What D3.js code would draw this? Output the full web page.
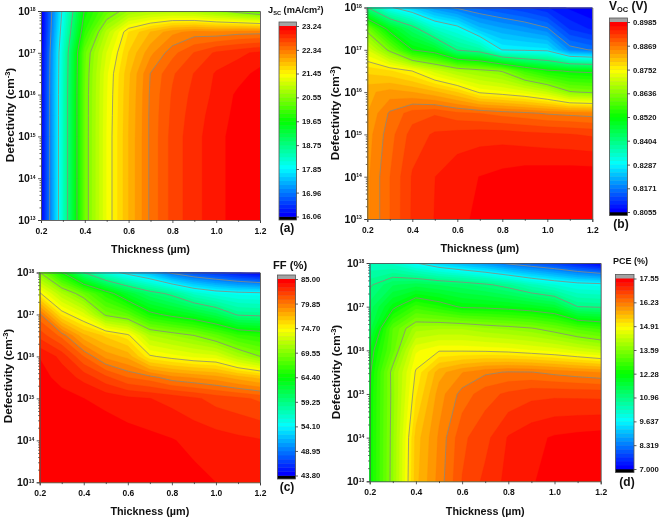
<!DOCTYPE html>
<html><head><meta charset="utf-8">
<style>html,body{margin:0;padding:0;background:#fff}svg{display:block;filter:blur(.35px)}text{font-family:"Liberation Sans",Arial,sans-serif;font-weight:bold;fill:#111}</style>
<script src="https://cdn.jsdelivr.net/npm/d3@7"></script></head><body>
<svg id="c" width="661" height="519"></svg>
<script>
const thicknessGrid=[0.2,0.3,0.4,0.5,0.6,0.7,0.8,0.9,1.0,1.1,1.2];
const logDefectGrid=[13,14,15,15.5,16,16.5,17,17.5,18];
const xTicks=[0.2,0.4,0.6,0.8,1.0,1.2];
const xMinorTicks=[0.3,0.5,0.7,0.9,1.1];
const yTicks=[13,14,15,16,17,18];
const yMinorFactors=[2,3,4,5,6,7,8,9];

const jscTicks=["16.06","16.96","17.85","18.75","19.65","20.55","21.45","22.34","23.24"];
const vocTicks=["0.8055","0.8171","0.8287","0.8404","0.8520","0.8636","0.8752","0.8869","0.8985"];
const ffTicks=["43.80","48.95","54.10","59.25","64.40","69.55","74.70","79.85","85.00"];
const pceTicks=["7.000","8.319","9.637","10.96","12.28","13.59","14.91","16.23","17.55"];

const jscGrid=[
[16.07,18.3,20.4,21.3,21.9,22.38,22.7,22.89,23.03,23.17,23.23],
[16.07,18.3,20.4,21.3,21.9,22.38,22.7,22.89,23.03,23.17,23.23],
[16.07,18.3,20.4,21.3,21.9,22.38,22.7,22.89,23.03,23.17,23.23],
[16.07,18.3,20.4,21.29,21.89,22.38,22.68,22.87,23.01,23.14,23.21],
[16.07,18.3,20.4,21.28,21.88,22.37,22.66,22.84,22.98,23.12,23.2],
[16.07,18.28,20.38,21.26,21.86,22.35,22.62,22.8,22.96,23.03,23.14],
[16.05,18.25,20.35,21.15,21.75,22.15,22.44,22.65,22.82,22.9,22.98],
[16.0,18.1,19.95,20.9,21.6,21.9,22.15,22.25,22.22,22.27,22.28],
[16.0,17.95,19.7,20.3,20.7,20.82,20.85,20.78,20.6,20.4,20.2]];

const vocGrid=[
[.8845,.8888,.893,.8947,.8959,.8971,.8978,.8982,.8984,.8985,.8985],
[.8845,.8888,.8929,.8946,.8959,.8966,.8972,.8977,.8978,.8979,.8979],
[.884,.888,.8916,.893,.8935,.8938,.8938,.8934,.8931,.8928,.8924],
[.883,.8872,.8898,.8905,.8893,.8888,.888,.8874,.8866,.8862,.8858],
[.8825,.8838,.883,.8815,.879,.8748,.8737,.8722,.8694,.864,.863],
[.8785,.8775,.8752,.8705,.867,.8652,.8633,.857,.853,.8515,.851],
[.8713,.8625,.852,.849,.84,.8376,.8285,.828,.8275,.8185,.8168],
[.862,.85,.8426,.8339,.8305,.8235,.8213,.8197,.8175,.811,.809],
[.8404,.8295,.8245,.8195,.8165,.8145,.813,.8115,.8095,.807,.8055]];

const ffGrid=[
[85,85,85,85,85,85,84.9,84.4,84.14,83.95,83.8],
[85,85,85,84.8,84.6,84.4,84.2,83.9,83.7,83.5,83.35],
[84.9,84.5,84.15,83.85,83.5,83.3,83,82.6,82.1,81.8,81.4],
[84.5,83.8,83,81.8,80.7,80.2,79.3,78.9,78.5,77.7,77],
[84.1,83,80.7,78.7,77.85,74.9,74.2,73.6,73.3,71.2,69.55],
[82.1,80.4,77.5,76.2,75,71.3,70.45,69.55,68.1,66.4,65.8],
[80.1,75.4,73.3,69.2,68,65,63.8,62.8,61.3,59,58.8],
[74.9,71.3,68.5,65.5,62.5,60.2,58.75,56.4,55.2,54.7,54.5],
[69.55,64.6,59.25,55.5,53.3,51.5,48.5,47,46,44.8,43.8]];

const pceGrid=[
[12.3,13.77,15.5,16.1,16.68,16.95,17.18,17.31,17.42,17.48,17.52],
[12.3,13.75,15.45,16.05,16.62,16.82,17.13,17.26,17.36,17.4,17.43],
[12.28,13.72,15.1,15.9,16.32,16.58,16.72,16.82,16.84,16.83,16.82],
[12.2,13.75,14.95,15.7,16,16.18,16.25,16.24,16.15,16.07,16],
[12.05,13.25,14.65,14.88,14.87,14.85,14.8,14.7,14.6,14.43,14.25],
[11.5,13.15,13.93,14,14,13.85,13.75,13.63,13.39,13.08,12.87],
[11.26,12.15,12.81,12.54,12.2,12.17,12.08,11.95,11.75,10.96,10.9],
[10.9,11.36,11.5,11.37,11.24,11.05,10.78,10.37,10.08,9.86,9.79],
[10.3,10.2,9.64,9.2,8.9,8.6,8.2,7.95,7.7,7.35,7]];

const LEVELS_PER_TICK=6;
const stops=["#0000ff","#00ffff","#00ff00","#ffff00","#ff0000"];
const ramp=d3.scaleLinear().domain([0,.25,.5,.75,1]).range(stops);
const gx=d3.scaleLinear().domain(d3.range(thicknessGrid.length)).range(thicknessGrid);
const gy=d3.scaleLinear().domain(d3.range(logDefectGrid.length)).range(logDefectGrid);
const svg=d3.select("#c");

function panel(o,i){
  const x=d3.scaleLinear().domain([.2,1.2]).range([o.x0,o.x1]);
  const y=d3.scaleLog().domain([1e13,1e18]).range([o.y1,o.y0]);
  const vals=o.grid.flat();
  const tickNums=o.ticks.map(Number);
  const lo=tickNums[0],hi=tickNums[tickNums.length-1];
  const nBands=(tickNums.length-1)*LEVELS_PER_TICK;
  const levels=d3.range(nBands).map(k=>lo+(hi-lo)*k/nBands);
  const bandColor=k=>ramp(k/(nBands-1));
  const contours=d3.contours().size([thicknessGrid.length,logDefectGrid.length]).thresholds(levels).smooth(true)(vals);
  const proj=d3.geoTransform({point(a,b){this.stream.point(x(gx(a-.5)),y(Math.pow(10,gy(b-.5))));}});
  const path=d3.geoPath(proj);
  const cid="clip"+i;
  svg.append("clipPath").attr("id",cid).append("rect").attr("x",o.x0).attr("y",o.y0).attr("width",o.x1-o.x0).attr("height",o.y1-o.y0);
  const g=svg.append("g").attr("clip-path",`url(#${cid})`);
  g.append("rect").attr("x",o.x0).attr("y",o.y0).attr("width",o.x1-o.x0).attr("height",o.y1-o.y0).attr("fill",bandColor(0));
  g.selectAll("path.b").data(contours).join("path").attr("class","b").attr("d",path)
    .attr("fill",(d,k)=>bandColor(k)).attr("stroke",(d,k)=>bandColor(k)).attr("stroke-width",.3);
  g.selectAll("path.l").data(contours.filter((d,k)=>k>0&&k%LEVELS_PER_TICK===0)).join("path").attr("class","l").attr("d",path)
    .attr("fill","none").attr("stroke","#8c8c78").attr("stroke-width",.8);
  // axes
  const root=svg.append("g");
  const ax=root.append("g").attr("transform",`translate(0,${o.y1})`)
    .call(d3.axisBottom(x).tickValues(xTicks).tickFormat(d3.format(".1f")).tickSize(3).tickPadding(4.5));
  ax.selectAll("text").attr("font-size",8.5);
  root.append("g").attr("transform",`translate(0,${o.y1})`).call(d3.axisBottom(x).tickValues(xMinorTicks).tickFormat("").tickSize(1.8)).select(".domain").remove();
  const minorY=[];
  yTicks.slice(0,-1).forEach(e=>yMinorFactors.forEach(f=>minorY.push(f*Math.pow(10,e))));
  root.append("g").attr("transform",`translate(${o.x0},0)`).call(d3.axisLeft(y).tickValues(minorY).tickFormat("").tickSize(1.5)).select(".domain").remove();
  const ay=root.append("g").attr("transform",`translate(${o.x0},0)`)
    .call(d3.axisLeft(y).tickValues(yTicks.map(e=>Math.pow(10,e))).tickSize(3).tickPadding(2.5).tickFormat(""));
  ay.selectAll(".tick text").each(function(d){const t=d3.select(this);t.text(null);t.attr("font-size",10.5);
    t.append("tspan").text("10");
    t.append("tspan").attr("dy",-3.5).attr("font-size",5).text(String(Math.round(Math.log10(d))));});
  root.append("g").attr("transform",`translate(0,${o.y0})`).call(d3.axisTop(x).tickValues([]).tickSize(0));
  root.append("g").attr("transform",`translate(${o.x1},0)`).call(d3.axisRight(y).tickValues([]).tickSize(0));
  root.selectAll(".domain").attr("stroke","#555").attr("stroke-width",.9);
  root.selectAll(".tick line").attr("stroke","#333").attr("stroke-width",.8);
  // titles
  svg.append("text").attr("x",(o.x0+o.x1)/2+o.xtDx).attr("y",o.xtY).attr("text-anchor","middle").attr("font-size",10.8).text("Thickness (µm)");
  const yt=svg.append("text").attr("transform",`translate(${o.ytX},${o.ytY}) rotate(-90)`).attr("text-anchor","middle").attr("font-size",11.8);
  yt.append("tspan").text("Defectivity (cm");
  yt.append("tspan").attr("dy",-4).attr("font-size",7.5).text("-3");
  yt.append("tspan").attr("dy",4).text(")");
  // colour bar
  const bh=o.by1-o.by0;
  const by=d3.scaleLinear().domain([lo,hi]).range([o.by1-3.5,o.by0+4]);
  svg.append("rect").attr("x",o.bx0).attr("y",o.by0).attr("width",o.bx1-o.bx0).attr("height",bh).attr("fill","#a3a3a3");
  svg.append("rect").attr("x",o.bx0).attr("y",o.by1-3.5).attr("width",o.bx1-o.bx0).attr("height",3.5).attr("fill","#000");
  svg.selectAll(null).data(levels).join("rect").attr("x",o.bx0).attr("width",o.bx1-o.bx0)
    .attr("y",(d,k)=>by(k+1<nBands?levels[k+1]:hi)).attr("height",(d,k)=>by(d)-by(k+1<nBands?levels[k+1]:hi)+.3)
    .attr("fill",(d,k)=>bandColor(k));
  svg.append("rect").attr("x",o.bx0).attr("y",o.by0).attr("width",o.bx1-o.bx0).attr("height",bh).attr("fill","none").attr("stroke","#555").attr("stroke-width",.8);
  const ab=svg.append("g").attr("transform",`translate(${o.bx1},0)`)
    .call(d3.axisRight(by).tickValues(tickNums).tickFormat((d,k)=>o.ticks[k]).tickSize(2.5).tickPadding(3));
  ab.select(".domain").remove();
  ab.selectAll("text").attr("font-size",7.7);
  ab.selectAll("line").attr("stroke","#333").attr("stroke-width",.8);
  // legend title
  const lt=svg.append("text").attr("x",o.ltX).attr("y",o.ltY).attr("font-size",o.ltSize);
  o.title.forEach(s=>{const t=lt.append("tspan").text(s[0]);
    if(s[1]==="sub")t.attr("dy",2).attr("font-size",o.ltSize*.62);
    else if(s[1]==="sup")t.attr("dy",-3.5).attr("font-size",o.ltSize*.62);
    else if(s[1]==="base")t.attr("dy",s[2]);});
  svg.append("text").attr("x",o.pX).attr("y",o.pY).attr("text-anchor","middle").attr("font-size",12).text(o.panel);
}
const panels=[
{grid:jscGrid,ticks:jscTicks,panel:"(a)",x0:41,x1:260,y0:11,y1:220,bx0:279,bx1:296.5,by0:22,by1:220,xtY:253,xtDx:0,ytX:14,ytY:115,ltX:268,ltY:13,ltSize:9.2,pX:287,pY:232,
 title:[["J"],["SC","sub"],[" (mA/cm",'base',-2],["2","sup"],[")","base",3.5]]},
{grid:vocGrid,ticks:vocTicks,panel:"(b)",x0:367.3,x1:592.3,y0:7.5,y1:219,bx0:609.5,bx1:627.5,by0:18,by1:215.5,xtY:252,xtDx:0,ytX:339,ytY:113,ltX:609,ltY:9.5,ltSize:12,pX:621,pY:228,
 title:[["V"],["OC","sub"],[" (V)","base",-2]]},
{grid:ffGrid,ticks:ffTicks,panel:"(c)",x0:39.7,x1:260,y0:272.5,y1:482.3,bx0:277.5,bx1:295.5,by0:275,by1:479,xtY:515,xtDx:0,ytX:12,ytY:376,ltX:273,ltY:268.5,ltSize:11.2,pX:287,pY:491,
 title:[["FF (%)"]]},
{grid:pceGrid,ticks:pceTicks,panel:"(d)",x0:369.7,x1:600.7,y0:263,y1:481.3,bx0:615.5,bx1:634,by0:274.5,by1:472.5,xtY:515,xtDx:0,ytX:340,ytY:372,ltX:613,ltY:264,ltSize:9,pX:627,pY:486,
 title:[["PCE (%)"]]}];
panels.forEach(panel);
</script></body></html>
